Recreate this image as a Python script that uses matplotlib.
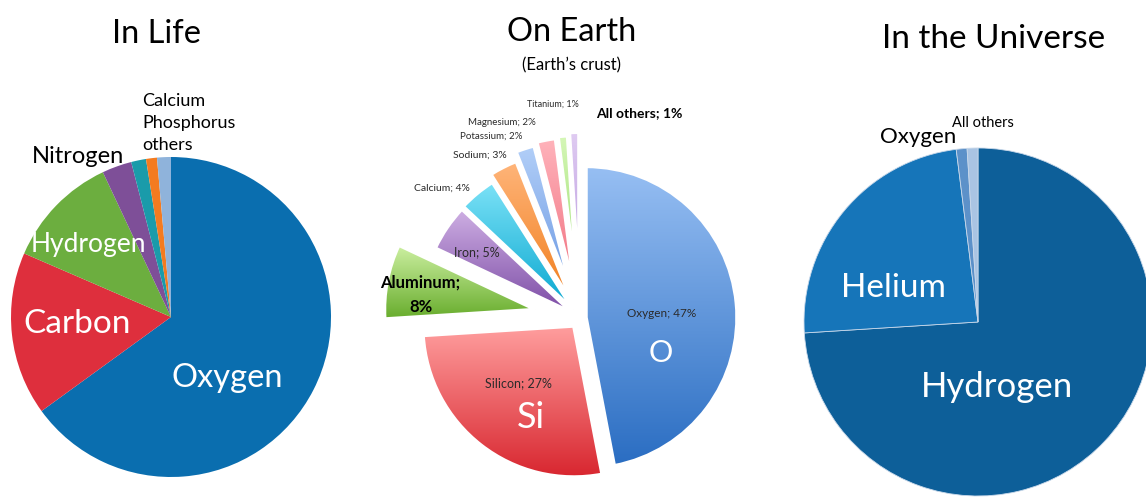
import numpy as np
import matplotlib.pyplot as plt
from matplotlib.colors import to_rgba

plt.rcParams['font.family'] = ['Lato', 'DejaVu Sans']

W, H = 1146, 497

# --- data ---
life_labels = ["Oxygen", "Carbon", "Hydrogen", "Nitrogen", "Calcium", "Phosphorus", "others"]
life_values = [65, 16.5, 11.5, 3, 1.5, 1.1, 1.4]

crust_labels = ["Oxygen", "Silicon", "Aluminum", "Iron", "Calcium", "Sodium",
                "Potassium", "Magnesium", "Titanium", "All others"]
crust_values = [47, 27, 8, 5, 4, 3, 2, 2, 1, 1]

universe_labels = ["Hydrogen", "Helium", "Oxygen", "All others"]
universe_values = [74, 24, 1, 1]

# --- styles ---
life_colors = ["#0A6EAF", "#DE2F3D", "#6CAE3F", "#7E4F98", "#1A9BAA", "#F47B20", "#8FB3DB"]
universe_colors = ["#0D5F99", "#1675B9", "#5C91C9", "#A9C4E3"]
# gradient (top, bottom) per crust wedge
crust_grad = [("#97BFF3", "#2A6DC2"), ("#FF9E9E", "#D8262F"), ("#CDF0A2", "#67AC2C"),
              ("#CFB0E4", "#7C4CA5"), ("#7CE2F7", "#06A6CF"), ("#FFB57A", "#F07D1C"),
              ("#B2CFF8", "#6B98E2"), ("#FFB3BB", "#F0707F"), ("#D6F7B8", "#93DA63"),
              ("#E0CCF2", "#B595DC")]
crust_explode = [0.04, 0.067, 0.30, 0.065, 0.07, 0.12, 0.18, 0.20, 0.21, 0.23]


def py(y):
    return H - y


fig = plt.figure(figsize=(W / 100, H / 100), dpi=100)
ax = fig.add_axes([0, 0, 1, 1])

# In Life
ax.pie(life_values, colors=life_colors, startangle=90, counterclock=False,
       center=(171, py(317)), radius=160, wedgeprops=dict(linewidth=0))

# On Earth (exploded, gradient filled)
R2 = 151
wedges, _ = ax.pie(crust_values, startangle=90, counterclock=False,
                   center=(580, py(318)), radius=R2,
                   explode=[e * R2 for e in crust_explode],
                   wedgeprops=dict(linewidth=2.5, edgecolor="white"))
for w, (c_top, c_bot) in zip(wedges, crust_grad):
    w.set_facecolor("none")
    w.set_zorder(3)
    ext = w.get_path().get_extents()
    t = np.linspace(0, 1, 256)[:, None]
    grad = (1 - t) * np.array(to_rgba(c_top)) + t * np.array(to_rgba(c_bot))
    im = ax.imshow(grad[:, None, :], extent=[ext.x0, ext.x1, ext.y0, ext.y1],
                   aspect="auto", origin="upper", zorder=2, interpolation="bilinear")
    im.set_clip_path(w)

# In the Universe
ax.pie(universe_values, colors=universe_colors, startangle=90, counterclock=False,
       center=(978, py(322)), radius=174,
       wedgeprops=dict(linewidth=0.6, edgecolor="#c8d8ea"))

ax.set_xlim(0, W)
ax.set_ylim(0, H)
ax.set_aspect("auto")
ax.axis("off")

# titles
ax.text(156, py(43), "In Life", ha="center", va="baseline", fontsize=23.5)
ax.text(572, py(41), "On Earth", ha="center", va="baseline", fontsize=23.5)
ax.text(571, py(70), "(Earth\u2019s crust)", ha="center", va="baseline", fontsize=12)
ax.text(994, py(48), "In the Universe", ha="center", va="baseline", fontsize=24)

# In Life labels
ax.text(227, py(387), life_labels[0], ha="center", va="baseline", fontsize=23.5, color="white", zorder=5)
ax.text(77, py(333), life_labels[1], ha="center", va="baseline", fontsize=24, color="white", zorder=5)
ax.text(88, py(252), life_labels[2], ha="center", va="baseline", fontsize=19, color="white", zorder=5)
ax.text(78, py(163), life_labels[3], ha="center", va="baseline", fontsize=17, color="black", zorder=5)
ax.text(142, py(106), life_labels[4], ha="left", va="baseline", fontsize=13, zorder=5)
ax.text(142, py(128), life_labels[5], ha="left", va="baseline", fontsize=13, zorder=5)
ax.text(142, py(150), life_labels[6], ha="left", va="baseline", fontsize=13, zorder=5)

# On Earth labels
lab = [f"{n}; {v}%" for n, v in zip(crust_labels, crust_values)]
gray = "#2b2b2b"
ax.text(662, py(317), lab[0], ha="center", va="baseline", fontsize=8.5, color=gray, zorder=5)
ax.text(661, py(362), "O", ha="center", va="baseline", fontsize=22, color="white", zorder=5)
ax.text(518, py(387), lab[1], ha="center", va="baseline", fontsize=9, color=gray, zorder=5)
ax.text(531, py(428), "Si", ha="center", va="baseline", fontsize=26, color="white", zorder=5)
ax.text(420, py(288), f"{crust_labels[2]};", ha="center", va="baseline", fontsize=12,
        fontweight="bold", color="black", zorder=5)
ax.text(421, py(312), f"{crust_values[2]}%", ha="center", va="baseline", fontsize=12,
        fontweight="bold", color="black", zorder=5)
ax.text(477, py(256), lab[3], ha="center", va="baseline", fontsize=9, color=gray, zorder=5)
ax.text(442, py(191), lab[4], ha="center", va="baseline", fontsize=7.5, color=gray, zorder=5)
ax.text(480, py(158), lab[5], ha="center", va="baseline", fontsize=7.5, color=gray, zorder=5)
ax.text(491, py(139), lab[6], ha="center", va="baseline", fontsize=7, color=gray, zorder=5)
ax.text(502, py(125), lab[7], ha="center", va="baseline", fontsize=7, color=gray, zorder=5)
ax.text(553, py(107), lab[8], ha="center", va="baseline", fontsize=6.5, color=gray, zorder=5)
ax.text(639, py(117), lab[9], ha="center", va="baseline", fontsize=10, fontweight="bold",
        color="black", zorder=5)

# Universe labels
ax.text(997, py(397), universe_labels[0], ha="center", va="baseline", fontsize=25, color="white", zorder=5)
ax.text(893, py(297), universe_labels[1], ha="center", va="baseline", fontsize=24, color="white", zorder=5)
ax.text(918, py(143), universe_labels[2], ha="center", va="baseline", fontsize=16, zorder=5)
ax.text(952, py(127), universe_labels[3], ha="left", va="baseline", fontsize=10.5, zorder=5)

fig.savefig("out.png", dpi=100)
